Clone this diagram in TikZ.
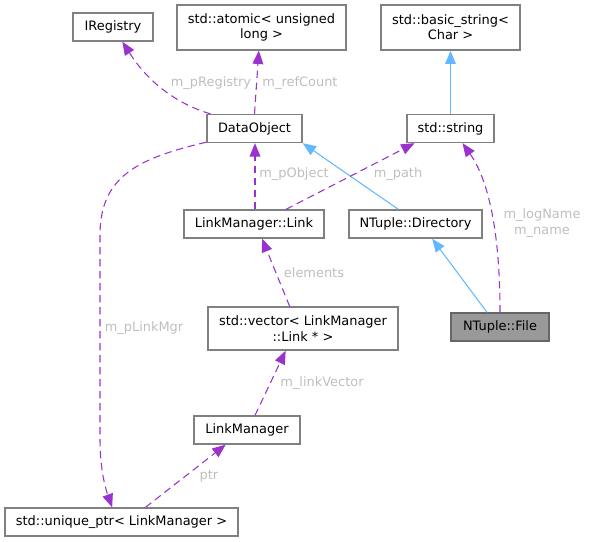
\documentclass[tikz,border=0pt]{standalone}
\usepackage{fontspec}
\setmainfont{DejaVu Sans}
\usepackage{tikz}
\usetikzlibrary{arrows.meta}
\definecolor{memb}{HTML}{9A32CD}
\definecolor{inher}{HTML}{63B8FF}
\definecolor{lblgray}{HTML}{BEBEBE}
\definecolor{boxline}{HTML}{808080}
\definecolor{curfill}{HTML}{999999}
\definecolor{curline}{HTML}{666666}

\begin{document}
\begin{tikzpicture}[
    x=0.75pt, y=-0.75pt,
    font=\fontsize{9.7}{11.5}\selectfont,
    cls/.style={draw=boxline, line width=1pt, fill=white, inner sep=2pt,
                align=center, minimum height=21pt},
    cur/.style={cls, draw=curline, fill=curfill},
    uses/.style={draw=memb, line width=0.8pt, dash pattern=on 5.5pt off 3.5pt,
                 -{Triangle[length=10pt, width=8pt]}},
    isa/.style={draw=inher, line width=0.8pt,
                -{Triangle[length=10pt, width=8pt]}},
    elbl/.style={text=lblgray, inner sep=1pt, align=center}
  ]
    \useasboundingbox (0,0) rectangle (589,542);

    % top row
    \node[cls, minimum width=60pt] (ireg) at (113,27) {IRegistry};
    \node[cls, minimum width=126.75pt, minimum height=33.75pt] (atom) at (261.5,27.5)
      {std::atomic< unsigned\\long >};
    \node[cls, minimum width=104.25pt, minimum height=33.75pt] (bstr) at (450.5,27.5)
      {std::basic\_string<\\Char >};

    \node[cls, minimum width=71.25pt] (dobj) at (254.5,128.5) {DataObject};
    \node[cls, minimum width=65.25pt] (sstr) at (450.5,128.5) {std::string};

    \node[cls, minimum width=105pt] (link) at (254,224) {LinkManager::Link};
    \node[cls, minimum width=99.75pt] (ndir) at (415.5,224) {NTuple::Directory};

    \node[cur, minimum width=73.5pt] (nfile) at (500,327) {NTuple::File};
    \node[cls, minimum width=142.5pt, minimum height=32.25pt] (lvec) at (303,328.5)
      {std::vector< LinkManager\\::Link * >};

    \node[cls, minimum width=79.5pt] (lmgr) at (247,430) {LinkManager};
    \node[cls, minimum width=174.75pt] (uptr) at (121.5,522)
      {std::unique\_ptr< LinkManager >};

    % inheritance
    \draw[isa] (sstr) -- (bstr);
    \draw[isa] (ndir.north west) ++(50,0) coordinate (dtop) (dtop) -- (dobj.south east);
    \draw[isa] (nfile.north) ++(-13,0) coordinate (ftop) (ftop) -- ([xshift=12.5pt]ndir.south);

    % members
    \draw[uses] ([xshift=-33pt]dobj.north) .. controls (180,105) and (150,85) .. ([xshift=7pt]ireg.south);
    \draw[uses] (dobj.north) -- ([xshift=-2pt]atom.south);
    \draw[uses] ([xshift=0.75pt]link.north) -- ([xshift=0.75pt]link.north |- dobj.south);
    \draw[uses] ([xshift=24pt]link.north) -- ([xshift=-27pt]sstr.south);
    \draw[uses] (nfile.north) .. controls (500,220) and (485,175) .. ([xshift=9pt]sstr.south);
    \draw[uses] ([xshift=-10pt]lvec.north) -- ([xshift=6pt]link.south);
    \draw[uses] ([xshift=6pt]lmgr.north) -- ([xshift=-13pt]lvec.south);
    \draw[uses] ([xshift=18pt]uptr.north) -- ([xshift=-16pt]lmgr.south);
    \draw[uses] (dobj.south west) ++(0,-1) coordinate (dsw)
      (dsw) .. controls (140,158) and (100,175) .. (100,235)
      -- (100,440) .. controls (100,470) and (106,490) .. ([xshift=-7pt]uptr.north);

    % edge labels
    \node[elbl] (l1) at (211,83) {m\_pRegistry};
    \node[elbl] (l2) at (300,83) {m\_refCount};
    \node[elbl] (l3) at (294,174) {m\_pObject};
    \node[elbl] (l4) at (398,174) {m\_path};
    \node[elbl] (l5) at (542,223) {m\_logName\\m\_name};
    \node[elbl] (l6) at (314,273) {elements};
    \node[elbl] (l7) at (322,383) {m\_linkVector};
    \node[elbl] (l8) at (209,476) {ptr};
    \node[elbl] (l9) at (144,328) {m\_pLinkMgr};
  \end{tikzpicture}
\end{document}
